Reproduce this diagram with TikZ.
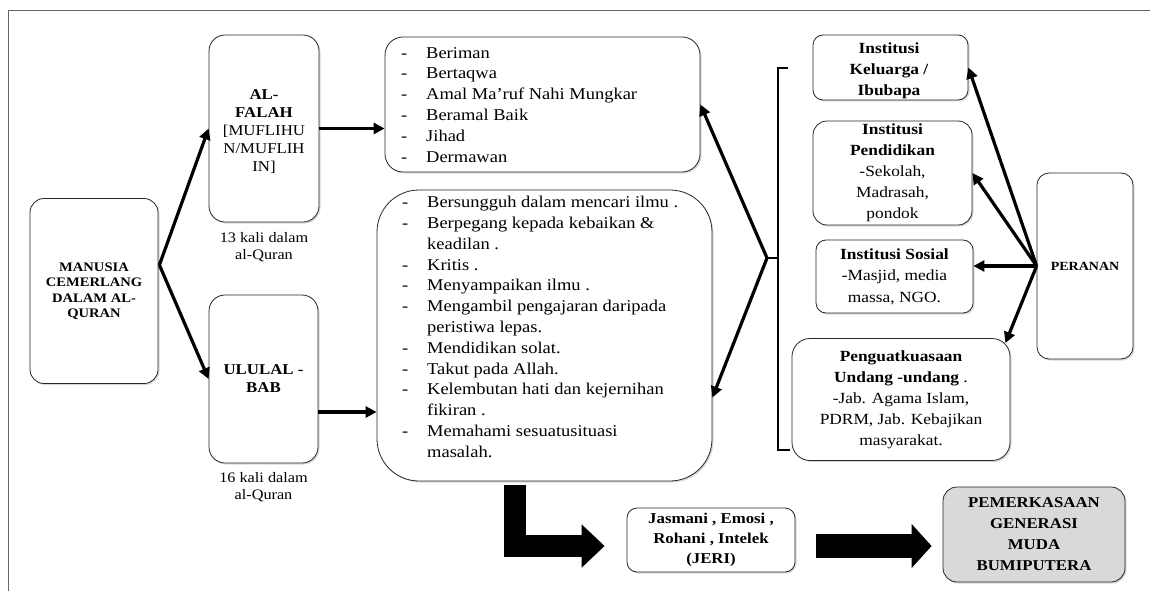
\documentclass[tikz,border=0pt]{standalone}
\usepackage{fontspec}
\setmainfont{Liberation Serif}[FakeStretch=1.12]
\usetikzlibrary{arrows.meta,shadows,calc}
\newcommand\fsz[2]{\fontsize{#1}{#2}\selectfont}
\newcommand\itm{\makebox[25pt][l]{-}}
\newcommand\cnt{\hspace*{25pt}}
\begin{document}
\begin{tikzpicture}[x=1pt,y=-1pt,
  rbox/.style={draw=black!85, line width=0.8pt, fill=white, inner sep=0pt, align=center,
    drop shadow={shadow xshift=1.5pt,shadow yshift=-1.5pt,opacity=0.3}},
  txt/.style={inner sep=0pt, align=center},
  listtxt/.style={inner sep=0pt, align=left, anchor=north west, font=\fsz{16.5}{20.8}},
  arr/.style={line width=3.2pt, -{Triangle[length=11pt,width=11pt]}},
]
\useasboundingbox (0,0) rectangle (1150,591);
% outer frame
\draw[black!60, line width=0.8pt] (8,591) -- (8,10) -- (1150,10);

% left column
\node[rbox, rounded corners=14pt, minimum width=128pt, minimum height=185pt, font=\fsz{13}{15.5}\bfseries]
  (man) at (94,291) {MANUSIA\\CEMERLANG\\DALAM AL-\\QURAN};
\node[rbox, rounded corners=16pt, minimum width=110pt, minimum height=187pt] (fal) at (264,128.5) {};
\node[txt, font=\fsz{15}{18.2}] (faltxt) at (264,131.5) {\textbf{AL-}\\\textbf{FALAH}\\{}[MUFLIHU\\N/MUFLIH\\IN]};
\node[txt, font=\fsz{14.5}{17}] (fal13) at (264,247.5) {13 kali dalam\\al-Quran};
\node[rbox, rounded corners=16pt, minimum width=109pt, minimum height=168pt, font=\fsz{15}{18}\bfseries]
  (ulu) at (263.5,379) {ULULAL -\\BAB};
\node[txt, font=\fsz{14.5}{17}] (ulu16) at (263.5,487) {16 kali dalam\\al-Quran};

% list boxes
\node[rbox, rounded corners=18pt, minimum width=315pt, minimum height=135pt] (top) at (542.5,104.5) {};
\node[listtxt] (toptxt) at (401,47) {\itm Beriman\\\itm Bertaqwa\\\itm Amal Ma’ruf Nahi Mungkar\\\itm Beramal Baik\\\itm Jihad\\\itm Dermawan};
\node[rbox, rounded corners=42pt, minimum width=335pt, minimum height=291pt] (big) at (544.5,335.5) {};
\node[listtxt] (bigtxt) at (402,196) {\itm Bersungguh dalam mencari ilmu .\\
\itm Berpegang kepada kebaikan \&\\
\cnt keadilan .\\
\itm Kritis .\\
\itm Menyampaikan ilmu .\\
\itm Mengambil pengajaran daripada\\
\cnt peristiwa lepas.\\
\itm Mendidikan solat.\\
\itm Takut pada Allah.\\
\itm Kelembutan hati dan kejernihan\\
\cnt fikiran .\\
\itm Memahami sesuatusituasi\\
\cnt masalah.};

% right boxes
\node[rbox, rounded corners=10pt, minimum width=155pt, minimum height=65pt] (kel) at (890.5,67.5) {};
\node[txt, font=\fsz{15.5}{21}\bfseries] (keltxt) at (889,71) {Institusi\\Keluarga /\\Ibubapa};
\node[rbox, rounded corners=14pt, minimum width=159pt, minimum height=104pt, font=\fsz{15.5}{21}]
  (pen) at (892.5,173) {\textbf{Institusi}\\\textbf{Pendidikan}\\-Sekolah,\\Madrasah,\\pondok};
\node[rbox, rounded corners=10pt, minimum width=157pt, minimum height=73pt, font=\fsz{15.5}{21.5}]
  (sos) at (894.5,276.5) {\textbf{Institusi Sosial}\\-Masjid, media\\massa, NGO.};
\node[rbox, rounded corners=18pt, minimum width=218pt, minimum height=122pt, font=\fsz{15.5}{21}]
  (pgk) at (901,399.5) {\textbf{Penguatkuasaan}\\\textbf{Undang -undang} .\\-Jab. Agama Islam,\\PDRM, Jab. Kebajikan\\masyarakat.};
\node[rbox, rounded corners=12pt, minimum width=96pt, minimum height=186pt, font=\fsz{12.5}{15}\bfseries]
  (per) at (1085,266) {PERANAN};

% bottom boxes
\node[rbox, rounded corners=10pt, minimum width=168pt, minimum height=64pt, font=\fsz{15}{20}\bfseries]
  (jeri) at (711,540) {Jasmani , Emosi ,\\Rohani , Intelek\\(JERI)};
\node[rbox, fill=black!15, rounded corners=14pt, minimum width=182pt, minimum height=95pt, font=\fsz{15}{21}\bfseries]
  (pem) at (1034,534.5) {PEMERKASAAN\\GENERASI\\MUDA\\BUMIPUTERA};

% bracket
\draw[line width=2pt] (788,68) -- (778,68) -- (778,450) -- (790,450);
\draw[line width=2pt] (778,258) -- (767,258) coordinate (brk);

% helper coordinates
\coordinate (manout) at ($(man.east)+(1,-26)$);
\coordinate (uluout) at ($(ulu.east)+(0,33)$);
\coordinate (bigin) at ($(big.east)+(0,62)$);
\coordinate (pgkin) at ($(pgk.north east)+(-5,5)$);

% arrows
\draw[arr] (manout) -- (fal.west);
\draw[arr] (manout) -- (ulu.west);
\draw[arr] (fal.east) -- (fal.east -| top.west);
\draw[arr] (uluout) -- (uluout -| big.west);
\draw[arr] (brk) -- (top.east);
\draw[arr] (brk) -- (bigin);
\draw[arr] (per.west) -- (kel.east);
\draw[arr] (per.west) -- (pen.east);
\draw[arr] (per.west) -- (per.west -| sos.east);
\draw[arr] (per.west) -- (pgkin);

% fat arrows
\draw[line width=22pt, -{Triangle[length=23pt,width=42pt]}]
  ([xshift=-30pt,yshift=-4pt]big.south) |- ([xshift=-22pt,yshift=-6pt]jeri.west);
\draw[line width=24pt, -{Triangle[length=20pt,width=43pt]}]
  ([xshift=21pt,yshift=-6pt]jeri.east) -- ([xshift=-11pt,yshift=-11.5pt]pem.west);
\end{tikzpicture}
\end{document}
